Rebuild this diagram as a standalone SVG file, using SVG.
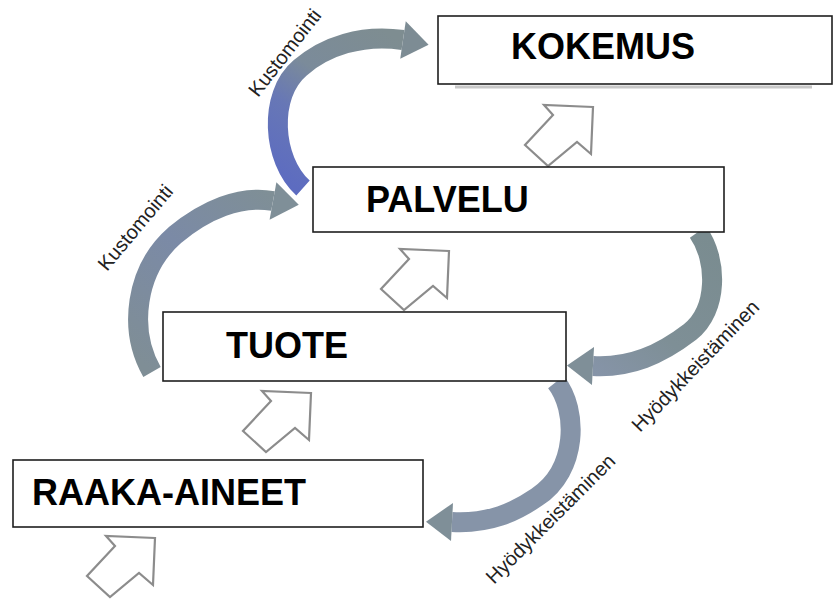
<svg xmlns="http://www.w3.org/2000/svg" xmlns:xlink="http://www.w3.org/1999/xlink" width="835" height="599" viewBox="0 0 835 599">
<style>
.box{fill:#fff;stroke:#1e1e1e;stroke-width:1.6}
.shadow{fill:none;stroke:#9a9a9a;stroke-width:3;opacity:.55}
.title{font-family:"Liberation Sans",Arial,sans-serif;font-weight:bold;font-size:36px;fill:#000}
.lbl{font-family:"Liberation Sans",Arial,sans-serif;font-size:20px;fill:#222}
.band{fill:none;stroke-width:20;stroke-linecap:butt}
.hollow{fill:#fff;stroke:#8c8c8c;stroke-width:2.2;stroke-linejoin:miter}
</style>
<defs>
<path id="harrow" d="M0,0 L-49,-2 L-40,8 L-68,38 L-45,59 L-16,35 L-2,47 Z"/>
<marker id="headBlue" markerUnits="userSpaceOnUse" markerWidth="34" markerHeight="42" refX="0" refY="21" orient="auto" overflow="visible">
<path d="M0,2 L26,22 L0,40 Z" fill="#7d8c94"/>
</marker>
<marker id="headGray" markerUnits="userSpaceOnUse" markerWidth="34" markerHeight="42" refX="0" refY="21" orient="auto" overflow="visible">
<path d="M0,2 L26,20 L0,40 Z" fill="#7f8f98"/>
</marker>
<linearGradient id="gUp" gradientUnits="userSpaceOnUse" x1="300" y1="190" x2="400" y2="40">
<stop offset="0" stop-color="#5d6cc0"/>
<stop offset="0.35" stop-color="#6777b6"/>
<stop offset="0.6" stop-color="#7b8b9a"/>
<stop offset="1" stop-color="#7e8d91"/>
</linearGradient>
<linearGradient id="gLow" gradientUnits="userSpaceOnUse" x1="150" y1="370" x2="280" y2="200">
<stop offset="0" stop-color="#7f8e96"/>
<stop offset="0.55" stop-color="#7b8aa6"/>
<stop offset="1" stop-color="#7f8f96"/>
</linearGradient>
<linearGradient id="gHyo" gradientUnits="userSpaceOnUse" x1="700" y1="230" x2="590" y2="370">
<stop offset="0" stop-color="#7a8c90"/>
<stop offset="0.6" stop-color="#7e8f96"/>
<stop offset="1" stop-color="#8694a8"/>
</linearGradient>
</defs>

<g id="connectors">
<path class="band" stroke="url(#gUp)" marker-end="url(#headBlue)" d="M303 188 C272 160,268 95,300 68 C325 46,362 34,403 40"/>
<path class="band" stroke="url(#gLow)" marker-end="url(#headGray)" d="M152 372 C128 330,135 270,175 235 C205 210,240 195,273 201"/>
<path class="band" stroke="url(#gHyo)" marker-end="url(#headGray)" d="M698 232 C718 260,718 310,690 332 C660 355,630 368,593 366"/>
<path class="band" stroke="url(#gHyo)" marker-end="url(#headGray)" d="M556 382 C578 410,578 470,537 497 C515 512,490 524,452 522"/>
<use class="hollow" href="#harrow" x="155" y="538"/>
<use class="hollow" href="#harrow" x="311" y="393"/>
<use class="hollow" href="#harrow" x="449" y="251"/>
<use class="hollow" href="#harrow" x="593" y="107"/>
<text class="lbl" transform="translate(258 98) rotate(-52)">Kustomointi</text>
<text class="lbl" transform="translate(107 272) rotate(-50)">Kustomointi</text>
<text class="lbl" transform="translate(640 433) rotate(-46)">Hyödykkeistäminen</text>
<text class="lbl" transform="translate(494 585) rotate(-45)">Hyödykkeistäminen</text>
</g>

<g id="kokemus">
<line class="shadow" x1="455" y1="87" x2="812" y2="87"/>
<rect class="box" x="438" y="16" width="394" height="68"/>
<text class="title" x="511" y="59">KOKEMUS</text>
</g>
<g id="palvelu">
<rect class="box" x="313" y="167" width="411" height="65"/>
<text class="title" x="366" y="212">PALVELU</text>
</g>
<g id="tuote">
<rect class="box" x="163" y="312" width="403" height="69"/>
<text class="title" x="226" y="358">TUOTE</text>
</g>
<g id="raaka-aineet">
<rect class="box" x="13" y="460" width="410" height="67"/>
<text class="title" x="32" y="505">RAAKA-AINEET</text>
</g>
</svg>
